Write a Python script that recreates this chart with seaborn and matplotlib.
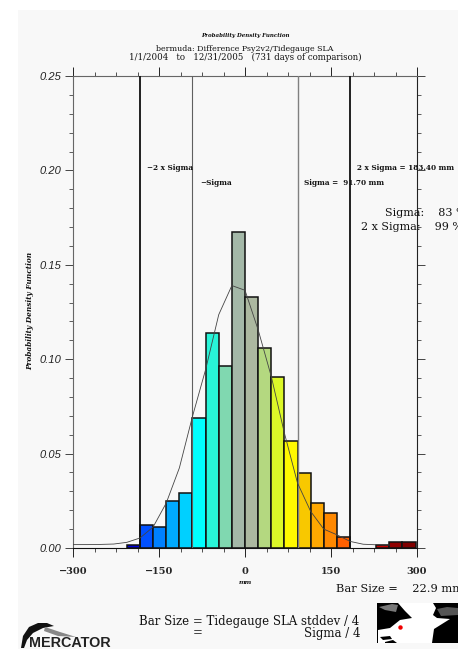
import numpy as np
import pandas as pd
import matplotlib.pyplot as plt
from matplotlib.patches import Polygon, Rectangle
from matplotlib.ticker import MultipleLocator
import seaborn as sns

bar_left = [-206.1, -183.2, -160.3, -137.4, -114.5, -91.6, -68.7, -45.8, -22.9, 0.0,
            22.9, 45.8, 68.7, 91.6, 114.5, 137.4, 160.3, 228.9, 251.8, 274.7]
bar_pdf = [0.0014, 0.0124, 0.0113, 0.0247, 0.0290, 0.0687, 0.1139, 0.0962, 0.1672, 0.1330,
           0.1058, 0.0907, 0.0565, 0.0397, 0.0237, 0.0184, 0.0060, 0.0016, 0.0032, 0.0032]
bar_colors = ['#0000d8', '#0050ff', '#0080ff', '#00aaff', '#00d0ff', '#00ffff', '#28f5d8',
              '#80d8b0', '#a4b8a8', '#acb8a0', '#b4d880', '#dcf828', '#fff800', '#f8c800',
              '#ffa800', '#ff8800', '#ff6000', '#c80000', '#900000', '#800000']
curve_x = [-300, -274.7, -251.8, -228.9, -206.1, -183.2, -160.3, -137.4, -114.5, -91.6, -68.7,
           -45.8, -22.9, 0, 22.9, 45.8, 68.7, 91.6, 114.5, 137.4, 160.3, 183.2, 206.1, 228.9, 251.8]
curve_y = [0.0018, 0.0018, 0.0019, 0.0021, 0.0030, 0.0053, 0.0111, 0.0238, 0.0424, 0.0697, 0.0945,
           0.1236, 0.1390, 0.1365, 0.1156, 0.0909, 0.0609, 0.0344, 0.0194, 0.0100, 0.0070, 0.0035,
           0.0020, 0.0017, 0.0016]
sigma_lines = [-183.4, -91.7, 91.7, 183.4]
sigma_widths = [1.3, 0.8, 1.0, 1.3]
sigma_colors = ['#101010', '#606060', '#808080', '#101010']
x_ticks = [-300, -150, 0, 150, 300]
x_labels = ['\u2212300', '\u2212150', '0', '150', '300']
y_ticks = [0.00, 0.05, 0.10, 0.15, 0.20, 0.25]

sns.set_theme(style="ticks")
plt.rcParams['font.family'] = ['DejaVu Serif']
W, H = 458, 649
fig = plt.figure(figsize=(W / 100, H / 100), dpi=100, facecolor='white')
fig.add_artist(Rectangle((18 / W, 0), 1, 1 - 10 / H, transform=fig.transFigure,
                         facecolor='#f8f8f8', edgecolor='none', zorder=-5))

ax = fig.add_axes([73 / W, 1 - 548 / H, 344 / W, 472 / H])
ax.patch.set_alpha(0)
df = pd.DataFrame({'center': np.array(bar_left) + 11.45, 'pdf': bar_pdf})
sns.barplot(data=df, x='center', y='pdf', hue='center', palette=bar_colors, native_scale=True,
            width=1, saturation=1, edgecolor='#111111', linewidth=1.1, legend=False, ax=ax, zorder=2)
sns.lineplot(x=curve_x, y=curve_y, color='#444444', linewidth=0.6, ax=ax, zorder=4)
for xv, lw, col in zip(sigma_lines, sigma_widths, sigma_colors):
    ax.axvline(xv, color=col, linewidth=lw, zorder=3)

ax.set_xlim(-300, 300)
ax.set_ylim(0, 0.25)
ax.set_xlabel('')
ax.set_ylabel('')
ax.set_xticks(x_ticks, x_labels)
ax.set_yticks(y_ticks, [f'{v:.2f}' for v in y_ticks])
ax.xaxis.set_minor_locator(MultipleLocator(37.5))
ax.yaxis.set_minor_locator(MultipleLocator(0.01))
ax.tick_params(axis='x', which='major', direction='out', top=True, length=6.5, width=0.7,
               color='#222222', pad=7, labelsize=7)
ax.tick_params(axis='x', which='minor', direction='out', top=True, length=3.2, width=0.6, color='#333333')
ax.tick_params(axis='y', which='major', direction='out', right=True, length=5.5, width=0.7,
               color='#444444', pad=3, labelsize=8)
ax.tick_params(axis='y', which='minor', direction='out', right=True, length=3.2, width=0.6, color='#444444')
for lab in ax.get_xticklabels():
    lab.set_fontweight('bold')
for lab in ax.get_yticklabels():
    lab.set_family(['Liberation Sans', 'DejaVu Sans'])
    lab.set_fontstyle('italic')
    lab.set_color('#222222')
for side, col in zip(['left', 'top', 'right', 'bottom'], ['#666666', '#666666', '#222222', '#111111']):
    ax.spines[side].set_visible(True)
    ax.spines[side].set_color(col)
    ax.spines[side].set_linewidth(0.8)

# overlay in pixel coordinates for the page furniture
ov = fig.add_axes([0, 0, 1, 1], zorder=10)
ov.set_xlim(0, W)
ov.set_ylim(H, 0)
ov.axis('off')


def put(x, y, s, size, ha='left', **kw):
    ov.text(x, y, s, fontsize=size, ha=ha, va='center', color=kw.pop('color', '#111111'), **kw)


put(245, 35, 'Probability Density Function', 4.0, ha='center', style='italic', weight='bold')
put(245, 49, 'bermuda: Difference Psy2v2/Tidegauge SLA', 5.7, ha='center')
put(245, 57, '1/1/2004   to   12/31/2005   (731 days of comparison)', 6.2, ha='center')
put(147, 168, '\u22122 x Sigma', 5.2, weight='bold')
put(200, 183, '\u2212Sigma', 5.2, weight='bold')
put(304, 183, 'Sigma =  91.70 mm', 5.2, weight='bold')
put(357, 168, '2 x Sigma = 183.40 mm', 5.2, weight='bold')
put(385, 213, 'Sigma:    83 %', 8.0)
put(361, 227, '2 x Sigma:    99 %', 8.0)
put(336, 589, 'Bar Size =    22.9 mm', 8.2)
put(139, 622, 'Bar Size = Tidegauge SLA stddev / 4', 8.5)
put(193, 633, '=', 8.5)
put(361, 633, 'Sigma / 4', 8.5, ha='right')
put(245, 582, 'mm', 4.5, ha='center', style='italic', weight='bold')
put(30, 311, 'Probability Density Function', 5.3, ha='center', rotation=90, style='italic', weight='bold')

# location map
ov.add_patch(Rectangle((377, 603), 81, 40, facecolor='black', edgecolor='none'))
ocean = [(398, 603), (433, 603), (436, 608), (433, 615), (437, 618), (450, 619), (434, 629), (432, 643),
         (378, 643), (378, 630), (390, 628), (400, 620), (412, 618), (405, 611)]
ov.add_patch(Polygon(ocean, facecolor='white', edgecolor='none'))
ov.add_patch(Polygon([(379, 607), (392, 604), (398, 605), (396, 612), (385, 610)], facecolor='#777777', edgecolor='none'))
ov.add_patch(Polygon([(437, 609), (447, 607), (458, 608), (458, 615), (441, 616)], facecolor='#555555', edgecolor='none'))
ov.add_patch(Polygon([(380, 637), (390, 636), (392, 639), (383, 640)], facecolor='black', edgecolor='none'))
ov.add_patch(Polygon([(385, 642), (393, 640), (397, 643), (385, 643)], facecolor='black', edgecolor='none'))
ov.plot([400], [627], 'o', color='#f00000', markersize=3.2, markeredgewidth=0)

# logo
ov.add_patch(Polygon([(21, 648), (23, 636), (29, 627), (38, 623), (47, 623), (54, 626), (43, 628), (33, 633), (27, 640), (24, 648)],
                     facecolor='#111111', edgecolor='none'))
ov.add_patch(Polygon([(45, 627), (60, 632), (76, 637), (58, 636), (44, 631)], facecolor='#888888', edgecolor='none'))
ov.text(70, 643, 'MERCATOR', fontsize=10.4, ha='center', va='center', weight='bold', color='#222222',
        family=['Liberation Sans', 'DejaVu Sans'])

plt.savefig('out.png', dpi=100)
